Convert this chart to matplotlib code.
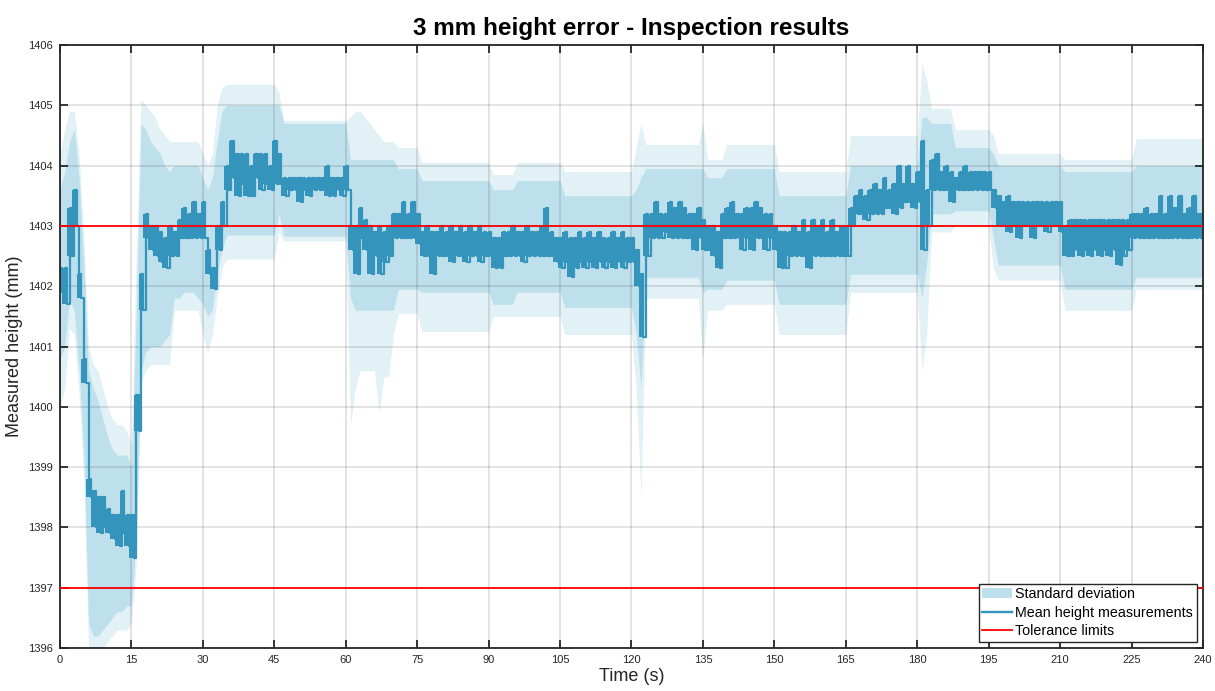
import numpy as np
import matplotlib
matplotlib.use("Agg")
import matplotlib.pyplot as plt
from matplotlib.patches import Patch
from matplotlib.lines import Line2D

plt.rcParams['font.family'] = ['Liberation Sans', 'DejaVu Sans']

# time in seconds, one reading per second
time_s = np.arange(0, 241)

# mean height: upper and lower level the mean flickers between (mm)
mean_hi = [
    1402.3, 1402.3, 1403.3, 1403.6, 1402.2, 1400.8, 1398.8, 1398.6, 1398.5, 1398.5,
    1398.3, 1398.2, 1398.2, 1398.6, 1398.2, 1398.2, 1400.2, 1402.2, 1403.2, 1403.0,
    1403.0, 1402.9, 1402.8, 1403.0, 1402.9, 1403.1, 1403.3, 1403.2, 1403.4, 1403.2,
    1403.4, 1402.6, 1402.3, 1403.0, 1403.4, 1404.0, 1404.4, 1404.2, 1404.2, 1404.2,
    1404.0, 1404.2, 1404.2, 1404.2, 1404.0, 1404.4, 1404.2, 1403.8, 1403.8, 1403.8,
    1403.8, 1403.8, 1403.8, 1403.8, 1403.8, 1403.8, 1404.0, 1403.8, 1403.8, 1403.8,
    1404.0, 1403.0, 1403.0, 1403.3, 1403.1, 1403.0, 1402.9, 1403.0, 1402.9, 1403.0,
    1403.2, 1403.2, 1403.4, 1403.2, 1403.4, 1403.2, 1402.9, 1403.0, 1402.9, 1402.9,
    1403.0, 1402.9, 1403.0, 1402.9, 1403.0, 1402.9, 1403.0, 1402.9, 1403.0, 1402.9,
    1402.9, 1402.8, 1402.8, 1402.9, 1402.9, 1403.0, 1402.9, 1402.9, 1403.0, 1402.9,
    1402.9, 1403.0, 1403.3, 1402.9, 1402.8, 1402.8, 1402.9, 1402.8, 1402.8, 1402.9,
    1402.8, 1402.9, 1402.8, 1402.9, 1402.8, 1402.8, 1402.9, 1402.8, 1402.9, 1402.8,
    1402.8, 1402.6, 1402.2, 1403.2, 1403.2, 1403.4, 1403.2, 1403.2, 1403.4, 1403.3,
    1403.4, 1403.3, 1403.2, 1403.2, 1403.3, 1403.1, 1403.0, 1403.0, 1402.9, 1403.2,
    1403.3, 1403.4, 1403.2, 1403.2, 1403.3, 1403.3, 1403.4, 1403.3, 1403.2, 1403.2,
    1403.0, 1402.9, 1402.9, 1402.9, 1403.0, 1402.9, 1403.1, 1402.9, 1403.1, 1403.0,
    1403.1, 1402.9, 1403.1, 1402.9, 1403.0, 1403.0, 1403.3, 1403.5, 1403.6, 1403.5,
    1403.6, 1403.7, 1403.6, 1403.8, 1403.6, 1403.7, 1404.0, 1403.7, 1404.0, 1403.7,
    1403.9, 1404.4, 1403.6, 1404.1, 1404.2, 1403.9, 1404.0, 1403.9, 1403.8, 1403.9,
    1404.0, 1403.9, 1403.9, 1403.9, 1403.9, 1403.9, 1403.6, 1403.5, 1403.4, 1403.5,
    1403.4, 1403.4, 1403.4, 1403.4, 1403.4, 1403.4, 1403.4, 1403.4, 1403.4, 1403.4,
    1403.4, 1403.0, 1403.1, 1403.1, 1403.1, 1403.1, 1403.1, 1403.1, 1403.1, 1403.1,
    1403.1, 1403.1, 1403.1, 1403.1, 1403.1, 1403.2, 1403.2, 1403.2, 1403.3, 1403.2,
    1403.2, 1403.5, 1403.2, 1403.5, 1403.3, 1403.5, 1403.2, 1403.3, 1403.5, 1403.2,
    1403.2,
]
mean_lo = [
    1401.9, 1401.7, 1402.5, 1403.0, 1401.8, 1400.4, 1398.5, 1398.0, 1397.9, 1398.0,
    1397.9, 1397.8, 1397.7, 1397.9, 1397.7, 1397.5, 1399.6, 1401.6, 1402.8, 1402.6,
    1402.5, 1402.4, 1402.3, 1402.5, 1402.5, 1402.8, 1402.8, 1402.8, 1402.8, 1402.8,
    1402.8, 1402.2, 1401.95, 1402.6, 1403.0, 1403.6, 1403.8, 1403.5, 1403.7, 1403.5,
    1403.5, 1403.8, 1403.6, 1403.7, 1403.6, 1403.7, 1403.7, 1403.5, 1403.6, 1403.6,
    1403.4, 1403.6, 1403.5, 1403.6, 1403.6, 1403.6, 1403.5, 1403.5, 1403.6, 1403.5,
    1403.6, 1402.6, 1402.2, 1402.8, 1402.6, 1402.2, 1402.5, 1402.2, 1402.4, 1402.5,
    1402.8, 1402.8, 1402.8, 1402.8, 1402.8, 1402.7, 1402.5, 1402.5, 1402.2, 1402.5,
    1402.5, 1402.5, 1402.4, 1402.5, 1402.5, 1402.4, 1402.5, 1402.5, 1402.4, 1402.5,
    1402.5, 1402.3, 1402.3, 1402.5, 1402.5, 1402.5, 1402.5, 1402.4, 1402.5, 1402.5,
    1402.5, 1402.5, 1402.5, 1402.5, 1402.4, 1402.3, 1402.4, 1402.15, 1402.3, 1402.4,
    1402.3, 1402.4, 1402.3, 1402.4, 1402.3, 1402.4, 1402.3, 1402.4, 1402.3, 1402.4,
    1402.4, 1402.0, 1401.15, 1402.5, 1402.8, 1402.8, 1402.8, 1402.9, 1402.8, 1402.8,
    1402.8, 1402.8, 1402.8, 1402.6, 1402.8, 1402.6, 1402.6, 1402.5, 1402.3, 1402.8,
    1402.8, 1402.8, 1402.8, 1402.6, 1402.8, 1402.6, 1402.8, 1402.8, 1402.6, 1402.8,
    1402.6, 1402.3, 1402.3, 1402.5, 1402.5, 1402.5, 1402.5, 1402.3, 1402.5, 1402.5,
    1402.5, 1402.5, 1402.5, 1402.5, 1402.5, 1402.5, 1403.0, 1403.2, 1403.2, 1403.1,
    1403.2, 1403.2, 1403.2, 1403.3, 1403.3, 1403.2, 1403.3, 1403.4, 1403.4, 1403.3,
    1403.4, 1402.6, 1403.0, 1403.6, 1403.6, 1403.6, 1403.6, 1403.4, 1403.6, 1403.6,
    1403.6, 1403.6, 1403.6, 1403.6, 1403.6, 1403.6, 1403.3, 1403.0, 1403.0, 1402.9,
    1403.0, 1402.8, 1403.0, 1403.0, 1402.8, 1403.0, 1403.0, 1402.9, 1403.0, 1403.0,
    1402.9, 1402.5, 1402.5, 1402.6, 1402.5, 1402.6, 1402.5, 1402.6, 1402.5, 1402.6,
    1402.5, 1402.6, 1402.35, 1402.5, 1402.6, 1402.8, 1402.8, 1402.8, 1402.8, 1402.8,
    1402.8, 1402.8, 1402.8, 1402.8, 1402.8, 1402.8, 1402.8, 1402.8, 1402.8, 1402.8,
    1402.8,
]

# standard deviation band: solid part
sd_hi = ([1403.6, 1403.9, 1404.4, 1404.6, 1403.8, 1402.4, 1400.6, 1400.3, 1400.1, 1399.8,
          1399.5, 1399.3, 1399.2, 1399.2, 1399.2, 1399.0,
          1401.5, 1404.7, 1404.6, 1404.4, 1404.3, 1404.2, 1404.0, 1403.9, 1404.0, 1404.0,
          1404.0, 1404.0, 1404.0, 1404.0, 1403.8, 1403.6, 1403.8, 1404.4, 1404.9]
         + [1405.0] * 12 + [1404.7] * 14 + [1404.1] * 10 + [1403.95] * 5
         + [1403.75] * 15 + [1403.6] * 5 + [1403.75] * 10 + [1403.5] * 15
         + [1403.6, 1403.8] + [1403.95] * 13 + [1403.8] * 4 + [1403.95] * 11
         + [1403.5] * 15 + [1404.0] * 15 + [1404.8, 1404.8] + [1404.7] * 5
         + [1404.3] * 8 + [1404.2] + [1404.0] * 14 + [1403.9] * 15 + [1404.0] * 15)
sd_lo = ([1400.8, 1401.0, 1401.8, 1401.6, 1400.6, 1399.2, 1396.4, 1396.2, 1396.2, 1396.3,
          1396.4, 1396.5, 1396.6, 1396.6, 1396.7, 1396.7,
          1397.8, 1400.6, 1400.9, 1401.0, 1401.0, 1401.0, 1401.1, 1401.2, 1401.8, 1401.8,
          1401.9, 1401.9, 1401.9, 1401.8, 1401.7, 1401.5, 1401.6, 1402.2, 1402.6]
         + [1402.85] * 11 + [1403.2] + [1402.83] * 14 + [1401.8] + [1401.6] * 9
         + [1401.95] * 5 + [1401.9] * 15 + [1401.7] * 5 + [1401.9] * 10
         + [1401.65] * 15 + [1401.2, 1400.3] + [1402.15] * 12 + [1401.9]
         + [1401.95] * 4 + [1402.1] * 11 + [1401.7] * 15 + [1402.2] * 15
         + [1401.8, 1402.4] + [1403.2] * 5 + [1403.25] * 8 + [1402.8]
         + [1402.35] * 14 + [1401.95] * 15 + [1402.15] * 15)

# standard deviation band: faint outer extent
ext_hi = ([1404.2, 1404.6, 1404.9, 1404.9, 1404.2, 1402.8, 1401.0, 1400.7, 1400.6, 1400.3,
           1400.0, 1399.8, 1399.7, 1399.7, 1399.6, 1399.4,
           1402.5, 1405.1, 1405.0, 1404.9, 1404.8, 1404.6, 1404.5, 1404.4, 1404.4, 1404.4,
           1404.4, 1404.4, 1404.4, 1404.4, 1404.2, 1404.0, 1404.2, 1405.0, 1405.3]
          + [1405.35] * 11 + [1405.2] + [1404.75] * 14
          + [1404.8, 1404.9, 1404.9, 1404.8, 1404.7, 1404.6, 1404.5, 1404.4, 1404.4, 1404.4]
          + [1404.3] * 5 + [1404.05] * 15 + [1403.85] * 5 + [1404.05] * 10
          + [1403.9] * 15 + [1404.3, 1404.7] + [1404.35] * 12 + [1404.7]
          + [1404.1] * 4 + [1404.35] * 11 + [1403.9] * 15 + [1404.5] * 15
          + [1405.7, 1405.4] + [1404.95] * 5 + [1404.6] * 8 + [1404.5]
          + [1404.2] * 14 + [1404.1] * 15 + [1404.45] * 15)
ext_lo = ([1400.0, 1400.3, 1401.3, 1401.2, 1400.2, 1398.8, 1396.0, 1396.0, 1396.0, 1396.0,
           1396.1, 1396.2, 1396.3, 1396.3, 1396.3, 1396.4,
           1397.4, 1400.4, 1400.6, 1400.7, 1400.7, 1400.7, 1400.7, 1400.7, 1401.6, 1401.6,
           1401.6, 1401.6, 1401.6, 1401.6, 1401.2, 1400.9, 1401.2, 1401.8, 1402.3]
          + [1402.45] * 11 + [1402.9] + [1402.75] * 14
          + [1399.7, 1400.3, 1400.6, 1400.6, 1400.6, 1400.6, 1399.9, 1400.5, 1400.5, 1401.2]
          + [1401.55] * 5 + [1401.25] * 15 + [1401.5] * 5 + [1401.5] * 10
          + [1401.2] * 15 + [1400.3, 1398.5] + [1401.8] * 12 + [1400.8]
          + [1401.6] * 4 + [1401.7] * 11 + [1401.2] * 15 + [1401.9] * 15
          + [1400.6, 1401.2] + [1402.9] * 5 + [1403.0] * 8 + [1402.3]
          + [1402.1] * 14 + [1401.6] * 15 + [1401.95] * 15)

tolerance = [1397, 1403]

mean_color = '#3594BC'
band_color = '#BEE0EC'

fig = plt.figure(figsize=(12.15, 6.91), dpi=100)
ax = fig.add_axes([0.0494, 0.0622, 0.9407, 0.8727])

ax.fill_between(time_s, ext_lo, ext_hi, color=band_color, alpha=0.45, lw=0, zorder=1)
ax.fill_between(time_s, sd_lo, sd_hi, color=band_color, lw=0, zorder=1)

# mean flickers quickly between the two levels -> reads as a solid thick band
ax.fill_between(time_s, mean_lo, mean_hi, step='mid', color=mean_color, lw=0, zorder=2)
t_line = np.column_stack((time_s, time_s + 0.5)).ravel()[:-1]
m_line = np.column_stack((mean_hi, mean_lo)).ravel()[:-1]
ax.plot(t_line, m_line, drawstyle='steps-post', color=mean_color, lw=1.6, zorder=2)

for lim in tolerance:
    ax.plot([time_s[0], time_s[-1]], [lim, lim], color='red', lw=1.3, zorder=3)

ax.set_xlim(0, 240)
ax.set_ylim(1396, 1406)
ax.set_xticks(np.arange(0, 241, 15))
ax.set_yticks(np.arange(1396, 1407, 1))
ax.tick_params(direction='in', length=6, width=1.3, labelsize=8, colors='#262626',
               top=True, right=True, pad=5)
ax.set_axisbelow('line')
ax.grid(True, color='#262626', alpha=0.15, lw=1.2)
for sp in ax.spines.values():
    sp.set_color('#262626')
    sp.set_linewidth(1.3)

ax.set_title('3 mm height error - Inspection results', fontsize=17.5, fontweight='bold', pad=7)
ax.set_xlabel('Time (s)', fontsize=13, color='#262626', labelpad=2)
ax.set_ylabel('Measured height (mm)', fontsize=13, color='#262626', labelpad=4)

handles = [Patch(facecolor=band_color, edgecolor='none', label='Standard deviation'),
           Line2D([], [], color=mean_color, lw=1.7, label='Mean height measurements'),
           Line2D([], [], color='red', lw=1.3, label='Tolerance limits')]
leg = ax.legend(handles=handles, loc='lower right', fontsize=10.3, fancybox=False,
                framealpha=1, edgecolor='#262626', borderpad=0.25, labelspacing=0.3,
                handlelength=2.1, handletextpad=0.2, borderaxespad=0.45)
leg.get_frame().set_linewidth(1.0)

fig.savefig('out.png', dpi=100)
